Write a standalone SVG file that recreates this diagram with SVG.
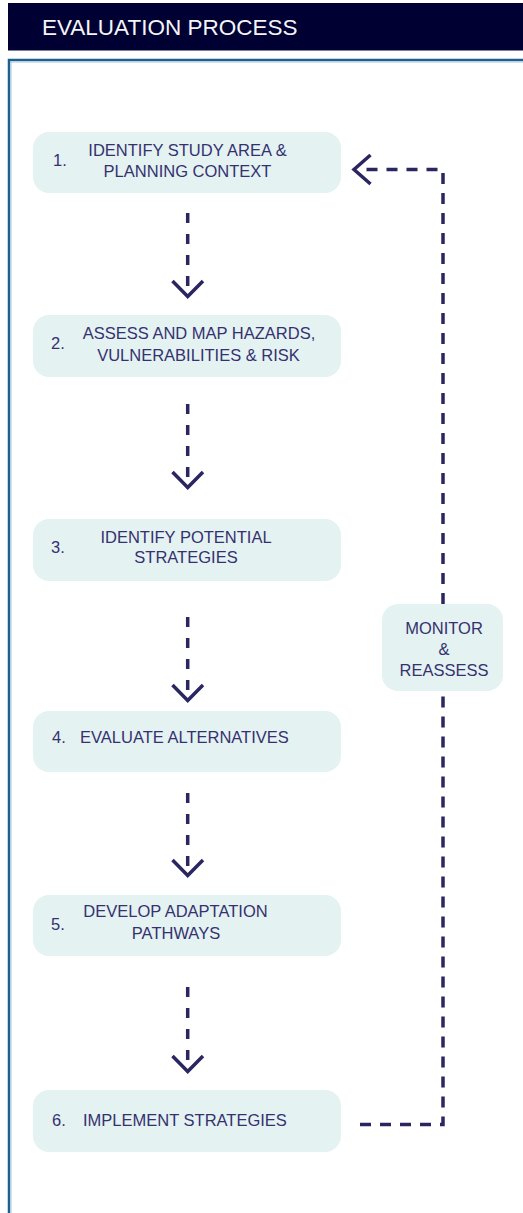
<svg xmlns="http://www.w3.org/2000/svg" width="523" height="1213" viewBox="0 0 523 1213">
<style>
.box{fill:#e4f2f2}
.t{font-family:"Liberation Sans",Arial,sans-serif;font-size:16.5px;fill:#35316f}
.m{text-anchor:middle}
.c{fill:none;stroke:#2a2660;stroke-width:3.5}
.d{stroke-dasharray:10 11}
.l{stroke-dasharray:11 9}
</style>
<rect width="523" height="1213" fill="#ffffff"/>
<g id="header">
<rect x="8" y="3" width="515" height="47.5" fill="#000033"/>
<text x="42" y="35" font-family="Liberation Sans,Arial,sans-serif" font-size="22.5" fill="#f4f4f8">EVALUATION PROCESS</text>
</g>
<g id="frame">
<rect x="9" y="60" width="600" height="1300" fill="none" stroke="#1d5f8e" stroke-width="2.5"/>
<rect x="11" y="62" width="600" height="1300" fill="none" stroke="#a9c9dd" stroke-width="1"/>
</g>
<g id="node1">
<rect class="box" x="33" y="132" width="308" height="61" rx="16"/>
<text class="t" x="53" y="166">1.</text>
<text class="t m" x="187.5" y="156">IDENTIFY STUDY AREA &amp;</text>
<text class="t m" x="187.5" y="177">PLANNING CONTEXT</text>
</g>
<g id="node2">
<rect class="box" x="33" y="315" width="308" height="62" rx="16"/>
<text class="t" x="51" y="349">2.</text>
<text class="t m" x="199" y="339">ASSESS AND MAP HAZARDS,</text>
<text class="t m" x="198.5" y="361">VULNERABILITIES &amp; RISK</text>
</g>
<g id="node3">
<rect class="box" x="33" y="519" width="308" height="62" rx="16"/>
<text class="t" x="51" y="553">3.</text>
<text class="t m" x="186" y="543">IDENTIFY POTENTIAL</text>
<text class="t m" x="186" y="563">STRATEGIES</text>
</g>
<g id="node4">
<rect class="box" x="33" y="711" width="308" height="61" rx="16"/>
<text class="t" x="52" y="743">4.</text>
<text class="t" x="80" y="743">EVALUATE ALTERNATIVES</text>
</g>
<g id="node5">
<rect class="box" x="33" y="895" width="308" height="61" rx="16"/>
<text class="t" x="51" y="930">5.</text>
<text class="t m" x="175.5" y="917">DEVELOP ADAPTATION</text>
<text class="t m" x="176" y="939">PATHWAYS</text>
</g>
<g id="node6">
<rect class="box" x="33" y="1090" width="308" height="62" rx="16"/>
<text class="t" x="52" y="1126">6.</text>
<text class="t" x="83" y="1126">IMPLEMENT STRATEGIES</text>
</g>
<g id="monitor">
<rect class="box" x="382" y="604" width="121" height="87" rx="16"/>
<text class="t m" x="444" y="634">MONITOR</text>
<text class="t m" x="444" y="655">&amp;</text>
<text class="t m" x="444" y="676">REASSESS</text>
</g>
<g id="connectors">
<path class="c d" d="M187.7 213V290"/>
<path class="c" d="M172.5 281L187.7 296.5L203 281"/>
<path class="c d" d="M187.7 404V481"/>
<path class="c" d="M172.5 472L187.7 487.5L203 472"/>
<path class="c d" d="M187.7 617V694"/>
<path class="c" d="M172.5 685L187.7 700.5L203 685"/>
<path class="c d" d="M187.7 793V870"/>
<path class="c" d="M172.5 860L187.7 875.5L203 860"/>
<path class="c d" d="M187.7 987V1064"/>
<path class="c" d="M172.5 1056L187.7 1071.5L203 1056"/>
<path class="c l" d="M360 1124.5H443V691"/>
<path class="c l" d="M443 604V169.5H358"/>
<path class="c" d="M370.5 155L354 169.5L370.5 184"/>
</g>
</svg>
